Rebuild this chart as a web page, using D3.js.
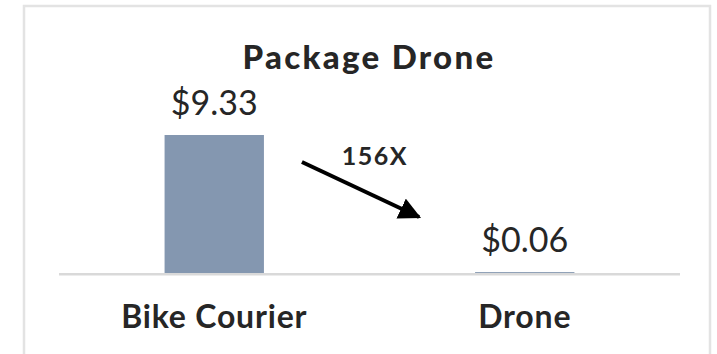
<!DOCTYPE html>
<html>
<head>
<meta charset="utf-8">
<script src="https://cdn.jsdelivr.net/npm/d3@7"></script>
<style>
  html, body { margin: 0; padding: 0; background: #fff; }
  svg { display: block; font-family: Lato, "Open Sans", sans-serif; }
</style>
</head>
<body>
<svg id="chart" width="717" height="354"></svg>
<script>
// Cost per delivery
const categories = ["Bike Courier", "Drone"];
const costs = [9.33, 0.06];
const title = "Package Drone";

const plot = { left: 59, right: 680, top: 135, bottom: 273 };

const svg = d3.select("#chart");

// outer frame
svg.append("rect")
  .attr("x", 24).attr("y", 6)
  .attr("width", 686).attr("height", 360)
  .attr("fill", "#fff")
  .attr("stroke", "#e3e3e3").attr("stroke-width", 2.5);

const x = d3.scaleBand().domain(categories)
  .range([plot.left, plot.right])
  .paddingInner(0.68).paddingOuter(0.34);

const y = d3.scaleLinear().domain([0, d3.max(costs)])
  .range([plot.bottom, plot.top]);

// title
svg.append("text")
  .attr("x", 369).attr("y", 69)
  .attr("text-anchor", "middle")
  .attr("font-size", 33).attr("font-weight", 900)
  .attr("letter-spacing", 2.3)
  .attr("fill", "#262626")
  .text(title);

// bars
svg.selectAll("rect.bar").data(costs).join("rect")
  .attr("class", "bar")
  .attr("x", (d, i) => x(categories[i]))
  .attr("width", x.bandwidth())
  .attr("y", d => y(d))
  .attr("height", d => Math.max(1, y(0) - y(d)))
  .attr("fill", "#8497b0");

// baseline
svg.append("line")
  .attr("x1", plot.left).attr("x2", plot.right)
  .attr("y1", y(0) + 1.2).attr("y2", y(0) + 1.2)
  .attr("stroke", "#d9d9d9").attr("stroke-width", 2.5);

// value labels
svg.selectAll("text.val").data(costs).join("text")
  .attr("class", "val")
  .attr("x", (d, i) => x(categories[i]) + x.bandwidth() / 2)
  .attr("y", d => y(d) - 20)
  .attr("text-anchor", "middle")
  .attr("font-size", 34).attr("font-weight", 400)
  .attr("fill", "#262626")
  .text(d => "$" + d.toFixed(2));

// category axis
const axis = d3.axisBottom(x).tickSize(0).tickPadding(0);
const gAxis = svg.append("g")
  .attr("transform", `translate(0,${y(0)})`)
  .call(axis);
gAxis.select(".domain").remove();
gAxis.selectAll("text")
  .attr("dy", 0).attr("y", 55)
  .attr("font-family", "Lato, 'Open Sans', sans-serif")
  .attr("font-size", 32).attr("font-weight", 700)
  .attr("letter-spacing", 0.8)
  .attr("fill", "#262626");

// reduction arrow
const defs = svg.append("defs");
defs.append("marker")
  .attr("id", "head")
  .attr("viewBox", "0 0 10 10")
  .attr("refX", 9).attr("refY", 5)
  .attr("markerWidth", 5.5).attr("markerHeight", 5.5)
  .attr("markerUnits", "strokeWidth")
  .attr("orient", "auto")
  .append("path").attr("d", "M0,0 L10,5 L0,10 Z").attr("fill", "#000");

const ax0 = x(categories[0]) + x.bandwidth() + 38;
const ax1 = x(categories[1]) - 56;
svg.append("line")
  .attr("x1", ax0).attr("y1", y(0) - 111)
  .attr("x2", ax1).attr("y2", y(0) - 56)
  .attr("stroke", "#000").attr("stroke-width", 4)
  .attr("marker-end", "url(#head)");

svg.append("text")
  .attr("x", 375).attr("y", 165)
  .attr("text-anchor", "middle")
  .attr("font-size", 25).attr("font-weight", 700)
  .attr("letter-spacing", 1.5)
  .attr("fill", "#262626")
  .text(Math.round(costs[0] / costs[1]) + "X");
</script>
</body>
</html>
